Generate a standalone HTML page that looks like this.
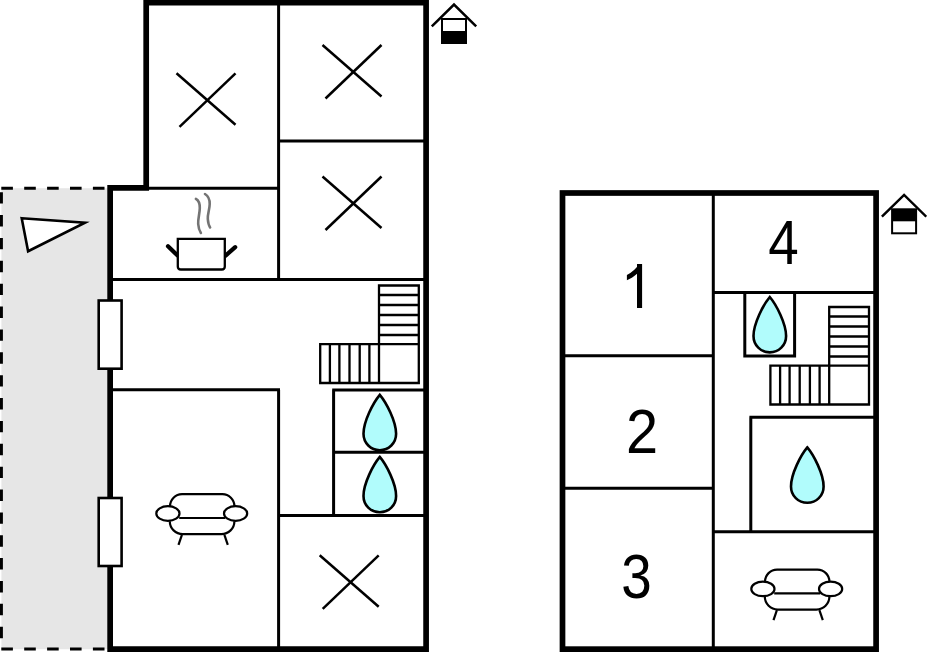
<!DOCTYPE html>
<html>
<head>
<meta charset="utf-8">
<title>Floor plan</title>
<style>
html,body{margin:0;padding:0;background:#fff;}
body{width:927px;height:652px;overflow:hidden;font-family:"Liberation Sans",sans-serif;}
svg{display:block;}
</style>
</head>
<body>
<svg width="927" height="652" viewBox="0 0 927 652">
<defs>
  <g id="cross" fill="none" stroke="#000" stroke-width="2.5" stroke-linecap="butt">
    <line x1="0" y1="0" x2="59" y2="51.5"/>
    <line x1="59" y1="0" x2="3" y2="53.5"/>
  </g>
  <path id="drop" d="M0,0 C6.5,7.7 16.3,26.5 16.3,39 C16.3,48.3 9,55.4 0,55.4 C-9,55.4 -16.3,48.3 -16.3,39 C-16.3,26.5 -6.5,7.7 0,0 Z" fill="#b1fcfc" stroke="#000" stroke-width="2.6" stroke-linejoin="miter"/>
  <g id="stairs" fill="#fff" stroke="#000" stroke-width="2.3" stroke-linejoin="miter">
    <path d="M0,58.7 H58.8 V0 H98.6 V97.5 H0 Z"/>
    <path d="M58.8,58.7 V97.5 M58.8,9.5 H98.6 M58.8,19.5 H98.6 M58.8,29.5 H98.6 M58.8,39.5 H98.6 M58.8,49.5 H98.6 M58.8,58.7 H98.6 M9.7,58.7 V97.5 M19.2,58.7 V97.5 M29.3,58.7 V97.5 M39.5,58.7 V97.5 M49.2,58.7 V97.5" fill="none"/>
  </g>
  <g id="sofa" fill="#fff" stroke="#000" stroke-width="2.2" stroke-linecap="butt">
    <path d="M14.85,20 V13 A12,12 0 0 1 26.85,1 H67.2 A12,12 0 0 1 79.2,13 V20" />
    <path d="M14.6,28 A13,13 0 0 0 27.6,41 H66.2 A13,13 0 0 0 79.2,28" />
    <line x1="24" y1="24.8" x2="70" y2="24.8"/>
    <ellipse cx="12.7" cy="20.3" rx="11.6" ry="7.3"/>
    <ellipse cx="80.4" cy="20.3" rx="11.6" ry="7.3"/>
    <line x1="26.7" y1="41.6" x2="23.3" y2="51.6"/>
    <line x1="69.2" y1="41.6" x2="72.6" y2="51.6"/>
  </g>
  <g id="house" fill="none" stroke="#000">
    <rect x="-12" y="16" width="24" height="24" fill="#fff" stroke-width="2"/>
    <path d="M-22.2,23.4 L0,1.6 L22.2,23.4" stroke-width="2.5" stroke-linejoin="miter"/>
  </g>
  <clipPath id="stem1"><rect x="637.03" y="264" width="5.07" height="44"/></clipPath>
</defs>

<rect width="927" height="652" fill="#fff"/>

<!-- terrace -->
<rect x="1.4" y="188.2" width="107" height="461" fill="#e6e6e6"/>
<g stroke="#000" stroke-width="3" fill="none">
  <line x1="1.3" y1="188.2" x2="107" y2="188.2" stroke-dasharray="11.6 11.3"/>
  <line x1="1.3" y1="649" x2="107" y2="649" stroke-dasharray="11.6 11.3"/>
  <line x1="1.45" y1="192.2" x2="1.45" y2="645" stroke-dasharray="11.4 11.47" stroke-width="2.9"/>
</g>
<polygon points="21.7,218.2 85.0,222.7 28.1,251.2" fill="#fff" stroke="#000" stroke-width="2.6" stroke-linejoin="miter"/>

<!-- left building -->
<path d="M146.2,2.65 H426.1 V649.15 H110.15 V187.95 H146.2 Z" fill="#fff" stroke="#000" stroke-width="5.7" stroke-linejoin="miter"/>
<g stroke="#000" stroke-width="3" fill="none" stroke-linecap="butt">
  <path d="M278.6,5 V281"/>
  <path d="M278.6,141 H424"/>
  <path d="M148,188.2 H278.6"/>
  <path d="M112,279.6 H424"/>
  <path d="M112,389.8 H280 M278.6,389.8 V647"/>
  <path d="M332.2,390 H424 M333.6,390 V515.6 M333.6,452.2 H424 M278.6,515.6 H424"/>
</g>
<rect x="98.7" y="300.5" width="22.9" height="68.2" fill="#fff" stroke="#000" stroke-width="2.6"/>
<rect x="98.7" y="498" width="22.9" height="68" fill="#fff" stroke="#000" stroke-width="2.6"/>

<use href="#cross" x="176.5" y="73.3"/>
<use href="#cross" x="322.5" y="45"/>
<use href="#cross" x="322.5" y="176.5"/>
<use href="#cross" x="319.7" y="555.3"/>

<!-- pot -->
<g fill="none" stroke="#000">
  <path d="M168,246.2 L177.6,255.6 M235.2,247.2 L225.6,255.6" stroke-width="4.2" stroke-linecap="round"/>
  <path d="M177.8,238.8 H224.8 V266.5 Q224.8,269.5 221.8,269.5 H180.8 Q177.8,269.5 177.8,266.5 Z" fill="#fff" stroke-width="2.3"/>
  <path d="M195.9,198.9 C198.6,200.4 199.9,203 199.8,208 C199.7,214 197.8,219 198.2,224 C198.5,228 199.5,231 200.9,233" stroke="#747474" stroke-width="2.6" stroke-linecap="round"/>
  <path d="M205,194 C207.9,195.8 209.8,199 209.7,204 C209.6,210 207.4,214 207.8,219 C208.1,223 208.8,225.5 210.1,227.4" stroke="#747474" stroke-width="2.6" stroke-linecap="round"/>
</g>

<use href="#stairs" x="320.2" y="285.5"/>
<use href="#drop" x="379.8" y="394.8"/>
<use href="#drop" x="379.8" y="456.9"/>
<use href="#sofa" x="155.2" y="493.2"/>
<use href="#house" x="454" y="3"/>
<rect x="442" y="31" width="24" height="12" fill="#000"/>

<!-- right building -->
<rect x="562.5" y="193" width="313.6" height="456.15" fill="#fff" stroke="#000" stroke-width="5.7"/>
<g stroke="#000" stroke-width="3" fill="none">
  <path d="M713.3,195 V647"/>
  <path d="M564,355.8 H713.3 M564,488.2 H713.3"/>
  <path d="M713.3,292.6 H875"/>
  <path d="M744.8,292.6 V356 H794.6 V292.6"/>
  <path d="M749.4,417.2 H875 M750.8,417.2 V531.8 M713.3,531.8 H875"/>
</g>
<use href="#stairs" x="770.4" y="307"/>
<use href="#drop" x="769.8" y="297"/>
<use href="#drop" x="807.3" y="447.4"/>
<use href="#sofa" x="750.2" y="568.6"/>
<use href="#house" x="904.1" y="193.3"/>
<rect x="892.1" y="209.3" width="24" height="12" fill="#000"/>

<g font-family="'Liberation Sans',sans-serif" font-size="100" fill="#000" text-anchor="start">
  <g clip-path="url(#stem1)"><text transform="translate(622.6,308) scale(0.5737,0.6395)">1</text></g>
  <path transform="translate(620.62,308) scale(0.02815,-0.02989)" d="M763,0 H583 V1147 Q518,1085 412.5,1023 Q307,961 223,930 V1104 Q374,1175 487,1276 Q600,1377 647,1472 H763 Z"/>
  <text transform="translate(626.1,452.8) scale(0.5773,0.6316)">2</text>
  <text transform="translate(621.31,598.28) scale(0.5484,0.6342)">3</text>
  <text transform="translate(768.24,263.9) scale(0.5477,0.6345)">4</text>
</g>
</svg>
</body>
</html>
